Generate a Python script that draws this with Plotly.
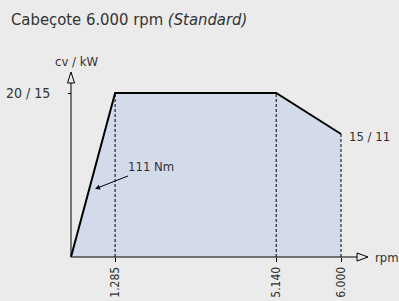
import plotly.graph_objects as go

# Data (schematic x positions, as in the reference drawing)
rpm_labels = ["1.285", "5.140", "6.000"]
x_pos = [0, 0.98, 4.56, 6.0]          # schematic positions of 0, 1285, 5140, 6000 rpm
power_cv = [0, 20, 20, 15]
y_tick_vals = [20]
y_tick_text = ["20 / 15"]
end_label = "15 / 11"
torque_label = "111 Nm"
title_text = "Cabeçote 6.000 rpm <i>(Standard)</i>"

FONT = "DejaVu Sans Condensed, Liberation Sans Narrow, sans-serif"
BG = "#ebebeb"
FILL = "#d3daea"
TXT = "#333333"

W, H = 399, 301
PX_X, PX_Y = 45.0, 8.2       # pixels per unit
X0, Y0 = 71, 257             # pixel position of origin

fig = go.Figure()

fig.add_trace(go.Scatter(x=x_pos, y=power_cv, mode="lines", fill="tozeroy",
                         fillcolor=FILL, line=dict(color="black", width=2),
                         hoverinfo="skip", showlegend=False))
for xv, yv in zip(x_pos[1:], power_cv[1:]):
    fig.add_trace(go.Scatter(x=[xv, xv], y=[0, yv], mode="lines",
                             line=dict(color="black", width=1, dash="3px,2px"),
                             hoverinfo="skip", showlegend=False))

# axis lines with open arrow heads
x_end, x_tip, hx = 6.356, 6.6, 0.49
fig.add_shape(type="line", x0=0, x1=x_end, y0=0, y1=0, line=dict(color="black", width=1))
fig.add_shape(type="path", path=f"M {x_end} {hx} L {x_tip} 0 L {x_end} {-hx} Z",
              line=dict(color="black", width=1), fillcolor=BG)
y_end, y_tip, hy = 21.22, 22.56, 0.078
fig.add_shape(type="line", x0=0, x1=0, y0=0, y1=y_end, line=dict(color="black", width=1))
fig.add_shape(type="path", path=f"M {-hy} {y_end} L 0 {y_tip} L {hy} {y_end} Z",
              line=dict(color="black", width=1), fillcolor=BG)

fig.add_annotation(x=0.133, y=23.9, text="cv / kW", showarrow=False,
                   font=dict(family=FONT, size=13, color=TXT), xanchor="center", yanchor="middle")
fig.add_annotation(x=6.7, y=0, text="rpm", showarrow=False, xanchor="left", yanchor="middle",
                   font=dict(family=FONT, size=13, color=TXT))
fig.add_annotation(x=x_pos[-1], y=power_cv[-1], text=end_label, showarrow=False,
                   xanchor="left", yanchor="middle", xshift=6, yshift=-2,
                   font=dict(family=FONT, size=13, color=TXT))
fig.add_annotation(x=0.533, y=8.3, text=torque_label, showarrow=True, arrowhead=2,
                   arrowsize=1, arrowwidth=1, arrowcolor="black", ax=56, ay=-22,
                   standoff=0, font=dict(family=FONT, size=13, color=TXT))
fig.add_annotation(x=9 / W, y=1 - 20 / H, xref="paper", yref="paper", text=title_text,
                   showarrow=False, xanchor="left", yanchor="middle",
                   font=dict(family=FONT, size=16.5, color=TXT))

fig.update_xaxes(range=[-X0 / PX_X, (W - X0) / PX_X], showgrid=False, zeroline=False,
                 showline=False, anchor="free", position=(H - Y0) / H, automargin=False,
                 tickvals=x_pos[1:], ticktext=rpm_labels, tickangle=-90,
                 ticks="outside", ticklen=4, tickcolor="black",
                 tickfont=dict(family=FONT, size=12, color=TXT))
fig.update_yaxes(range=[-(H - Y0) / PX_Y, Y0 / PX_Y], showgrid=False, zeroline=False,
                 showline=False, anchor="free", position=X0 / W, automargin=False,
                 tickvals=y_tick_vals, ticktext=y_tick_text,
                 ticks="outside", ticklen=3, tickcolor="black", ticklabelstandoff=15,
                 tickfont=dict(family=FONT, size=14, color=TXT))

fig.update_layout(width=W, height=H, paper_bgcolor=BG, plot_bgcolor=BG,
                  margin=dict(l=0, r=0, t=0, b=0), showlegend=False)

fig.write_html("out.html", config={"displayModeBar": False},
               post_script="document.body.style.margin='0';document.body.style.background='#ebebeb';")
